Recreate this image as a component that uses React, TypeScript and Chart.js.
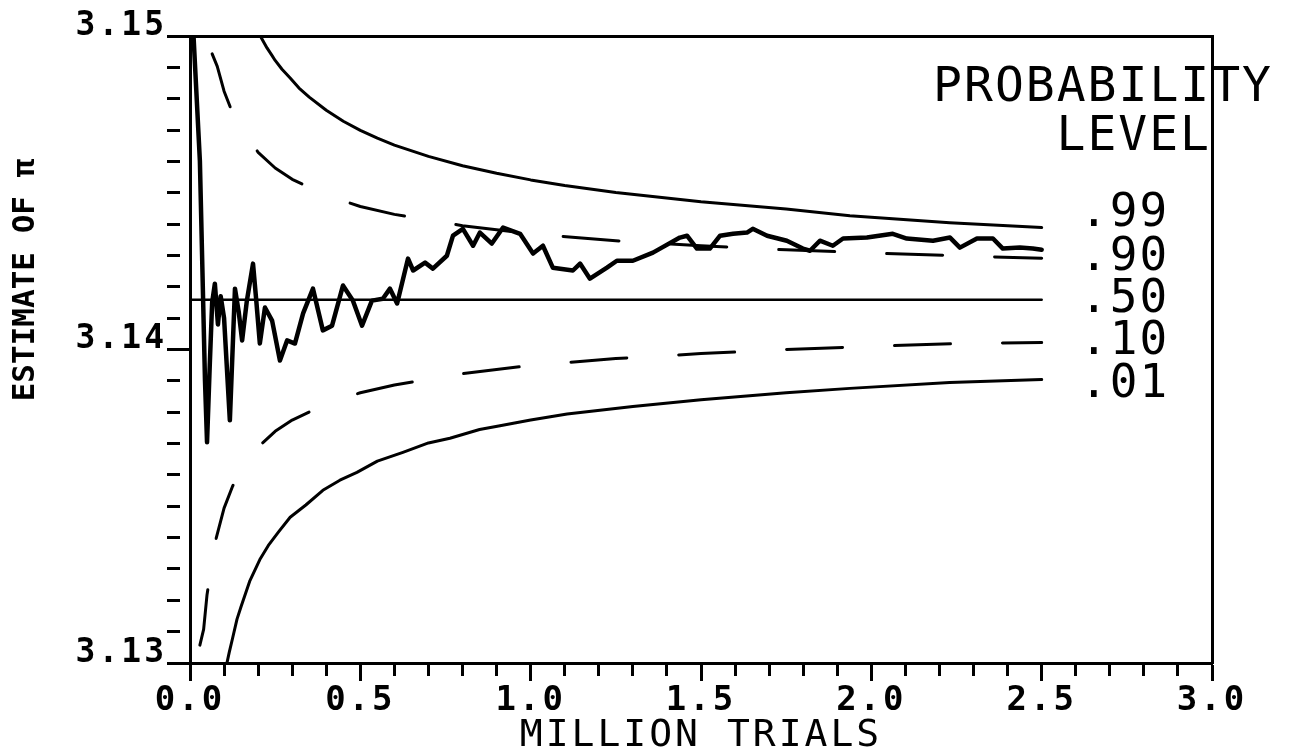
import React, { useEffect, useRef } from 'react';
import { Chart, registerables } from 'chart.js';

Chart.register(...registerables);

const FONT = '"DejaVu Sans Mono", monospace';

// ---- tick labels / titles ----
const xTickLabels = ['0.0', '0.5', '1.0', '1.5', '2.0', '2.5', '3.0'];
const yTickLabels = ['3.13', '3.14', '3.15'];
const xTitle = 'MILLION TRIALS';
const yTitle = 'ESTIMATE OF π';
const legendTitle = ['PROBABILITY', 'LEVEL'];
const levelLabels = ['.99', '.90', '.50', '.10', '.01'];

// ---- series (x in million trials, y = estimate of pi) ----
const piX = [0, 2.5];
const piY = [3.14159, 3.14159];

const upper99X = [0.2, 0.21, 0.226, 0.24, 0.25, 0.27, 0.294, 0.32, 0.35, 0.4, 0.45, 0.5, 0.55, 0.6, 0.7, 0.8, 0.9, 1.0, 1.1, 1.25, 1.5, 1.75, 1.937, 2.23, 2.5];
const upper99Y = [3.15013, 3.14993, 3.14962, 3.14939, 3.14922, 3.14894, 3.14866, 3.14834, 3.14805, 3.14763, 3.14728, 3.14699, 3.14674, 3.14652, 3.14616, 3.14586, 3.14562, 3.14541, 3.14523, 3.14501, 3.14471, 3.14448, 3.14427, 3.14404, 3.14389];

const upper90X = [0.065, 0.08, 0.1, 0.125, 0.15, 0.2, 0.25, 0.3, 0.4, 0.5, 0.6, 0.8, 1.0, 1.25, 1.5, 1.75, 2.0, 2.25, 2.5];
const upper90Y = [3.14943, 3.14903, 3.14824, 3.14754, 3.14702, 3.14629, 3.14579, 3.14543, 3.14492, 3.14456, 3.14431, 3.14395, 3.14369, 3.14347, 3.14331, 3.14318, 3.14308, 3.14299, 3.14291];

const lower10X = [0.029, 0.04, 0.05, 0.075, 0.1, 0.125, 0.15, 0.2, 0.25, 0.3, 0.4, 0.5, 0.6, 0.8, 1.0, 1.25, 1.5, 1.75, 2.0, 2.25, 2.5];
const lower10Y = [3.13057, 3.13107, 3.13218, 3.1339, 3.13494, 3.13564, 3.13616, 3.13689, 3.13739, 3.13775, 3.13826, 3.13862, 3.13887, 3.13923, 3.13949, 3.13971, 3.13987, 3.14, 3.1401, 3.14019, 3.14022];

const lower01X = [0.105, 0.109, 0.115, 0.125, 0.138, 0.15, 0.175, 0.205, 0.23, 0.26, 0.294, 0.34, 0.39, 0.44, 0.49, 0.55, 0.625, 0.7, 0.763, 0.85, 0.91, 1.0, 1.107, 1.3, 1.5, 1.75, 1.937, 2.23, 2.5];
const lower01Y = [3.1298, 3.13003, 3.13033, 3.13079, 3.1314, 3.1318, 3.1326, 3.1333, 3.13375, 3.13418, 3.13465, 3.13504, 3.13551, 3.13583, 3.13608, 3.13644, 3.13672, 3.13702, 3.13717, 3.13745, 3.13757, 3.13775, 3.13794, 3.13818, 3.1384, 3.13862, 3.13876, 3.13895, 3.13904];

const estX = [0.008, 0.029, 0.044, 0.05, 0.058, 0.065, 0.073, 0.082, 0.09, 0.1, 0.117, 0.132, 0.143, 0.153, 0.167, 0.185, 0.195, 0.205, 0.22, 0.241, 0.264, 0.285, 0.308, 0.332, 0.361, 0.39, 0.417, 0.449, 0.478, 0.505, 0.534, 0.566, 0.587, 0.608, 0.64, 0.655, 0.69, 0.713, 0.754, 0.772, 0.801, 0.831, 0.851, 0.886, 0.919, 0.969, 1.007, 1.036, 1.065, 1.124, 1.145, 1.174, 1.224, 1.253, 1.3, 1.359, 1.385, 1.438, 1.459, 1.488, 1.526, 1.556, 1.594, 1.635, 1.652, 1.694, 1.752, 1.799, 1.82, 1.849, 1.887, 1.917, 1.987, 2.063, 2.104, 2.181, 2.231, 2.26, 2.31, 2.357, 2.386, 2.436, 2.474, 2.5];
const estY = [3.1505, 3.14602, 3.13901, 3.13704, 3.1395, 3.1415, 3.1421, 3.1408, 3.1417, 3.141, 3.13774, 3.14194, 3.1412, 3.14029, 3.14156, 3.14274, 3.1415, 3.14019, 3.14134, 3.14092, 3.13965, 3.14029, 3.14019, 3.14115, 3.14194, 3.14061, 3.14076, 3.14204, 3.14156, 3.14076, 3.14156, 3.14162, 3.14194, 3.14147, 3.1429, 3.14252, 3.14277, 3.14258, 3.14299, 3.14363, 3.14385, 3.14331, 3.14373, 3.14338, 3.14389, 3.14369, 3.14306, 3.14331, 3.14261, 3.14252, 3.14274, 3.14226, 3.14261, 3.14283, 3.14283, 3.14309, 3.14325, 3.14357, 3.14363, 3.14322, 3.14322, 3.14363, 3.14369, 3.14373, 3.14385, 3.14363, 3.14347, 3.14322, 3.14315, 3.14347, 3.14331, 3.14354, 3.14357, 3.14369, 3.14354, 3.14347, 3.14357, 3.14325, 3.14354, 3.14354, 3.14322, 3.14325, 3.14322, 3.14318];

const toPoints = (xs: number[], ys: number[]) => xs.map((x, i) => ({ x, y: ys[i] }));

const lineStyle = (width: number, dash: number[] = []) => ({
  borderColor: '#000',
  borderWidth: width,
  borderDash: dash,
  borderCapStyle: 'round' as const,
  borderJoinStyle: 'round' as const,
  pointRadius: 0,
  tension: 0,
  fill: false,
  xAxisID: 'x',
  yAxisID: 'y',
});

export default function App() {
  const ref = useRef<HTMLCanvasElement>(null);

  useEffect(() => {
    const canvas = ref.current;
    if (!canvas) return;

    const textPlugin = {
      id: 'extraText',
      beforeDraw(chart: any) {
        (chart.ctx as any).letterSpacing = '3px';
      },
      afterDraw(chart: any) {
        const ctx = chart.ctx as any;
        ctx.save();
        ctx.fillStyle = '#000';
        // y-axis title
        ctx.letterSpacing = '0px';
        ctx.font = `bold 31px ${FONT}`;
        ctx.textAlign = 'center';
        ctx.textBaseline = 'middle';
        ctx.save();
        ctx.translate(26, 280);
        ctx.rotate(-Math.PI / 2);
        ctx.fillText(yTitle, 0, 0);
        ctx.restore();
        // legend heading
        ctx.letterSpacing = '2px';
        ctx.font = `48px ${FONT}`;
        ctx.textAlign = 'right';
        ctx.fillText(legendTitle[0], 1273, 89);
        ctx.fillText(legendTitle[1], 1211, 138);
        // level labels
        const levelY = [214, 258, 300, 342, 385];
        ctx.textAlign = 'left';
        ctx.font = `46px ${FONT}`;
        levelLabels.forEach((t, i) => ctx.fillText(t, 1080, levelY[i]));
        ctx.restore();
      },
    };

    const chart = new Chart(canvas, {
      type: 'line',
      data: {
        datasets: [
          { label: '.50', data: toPoints(piX, piY), ...lineStyle(2.5) },
          { label: '.99', data: toPoints(upper99X, upper99Y), ...lineStyle(3) },
          { label: '.90', data: toPoints(upper90X, upper90Y), ...lineStyle(3, [56, 52]) },
          { label: '.10', data: toPoints(lower10X, lower10Y), ...lineStyle(3, [56, 52]) },
          { label: '.01', data: toPoints(lower01X, lower01Y), ...lineStyle(3) },
          { label: 'estimate', data: toPoints(estX, estY), ...lineStyle(4.5) },
        ] as any,
      },
      options: {
        responsive: false,
        animation: false,
        events: [],
        layout: { padding: 0 },
        plugins: {
          legend: { display: false },
          tooltip: { enabled: false },
          title: { display: false },
        },
        scales: {
          x: {
            type: 'linear',
            position: 'bottom',
            min: 0,
            max: 3,
            weight: 0,
            afterFit: (s: any) => { s.height = 90; },
            ticks: {
              stepSize: 0.1,
              maxTicksLimit: 100,
              autoSkip: false,
              maxRotation: 0,
              minRotation: 0,
              padding: 0,
              color: '#000',
              font: { family: FONT, size: 34, weight: 'bold' },
              callback: (_v: any, i: number) => (i % 5 === 0 ? xTickLabels[i / 5] : ''),
            },
            grid: {
              drawOnChartArea: false,
              drawTicks: true,
              tickLength: 18,
              tickWidth: 3,
              tickColor: '#000',
              tickBorderDash: (c: any) => (c.index % 5 === 0 ? [] : [11, 100]),
            },
            border: { display: true, width: 3, color: '#000' },
            title: {
              display: true,
              text: xTitle,
              color: '#000',
              font: { family: FONT, size: 38, lineHeight: 0.9 },
              padding: 0,
            },
          },
          y: {
            type: 'linear',
            position: 'left',
            min: 3.13,
            max: 3.15,
            weight: 0,
            afterFit: (s: any) => { s.width = 190; },
            ticks: {
              stepSize: 0.001,
              maxTicksLimit: 100,
              autoSkip: false,
              padding: 0,
              color: '#000',
              font: { family: FONT, size: 33, weight: 'bold', lineHeight: 0.6 },
              callback: (_v: any, i: number) => (i % 10 === 0 ? [yTickLabels[i / 10], ''] : ''),
            },
            grid: {
              drawOnChartArea: false,
              drawTicks: true,
              tickLength: 23,
              tickWidth: 3,
              tickColor: '#000',
              tickBorderDash: (c: any) => (c.index % 10 === 0 ? [] : [13, 100]),
            },
            border: { display: true, width: 3, color: '#000' },
          },
          xTop: {
            type: 'linear',
            position: 'top',
            min: 0,
            max: 3,
            display: true,
            afterFit: (s: any) => { s.height = 36; },
            ticks: { display: false },
            grid: { drawOnChartArea: false, drawTicks: false },
            border: { display: true, width: 3, color: '#000' },
          },
          yRight: {
            type: 'linear',
            position: 'right',
            min: 3.13,
            max: 3.15,
            display: true,
            afterFit: (s: any) => { s.width = 83; },
            ticks: { display: false },
            grid: { drawOnChartArea: false, drawTicks: false },
            border: { display: true, width: 3, color: '#000' },
          },
        },
      } as any,
      plugins: [textPlugin],
    });

    return () => chart.destroy();
  }, []);

  return (
    <div style={{ position: 'fixed', left: 0, top: 0, width: 1295, height: 753, background: '#fff' }}>
      <canvas ref={ref} width={1295} height={753} style={{ display: 'block' }} />
    </div>
  );
}
